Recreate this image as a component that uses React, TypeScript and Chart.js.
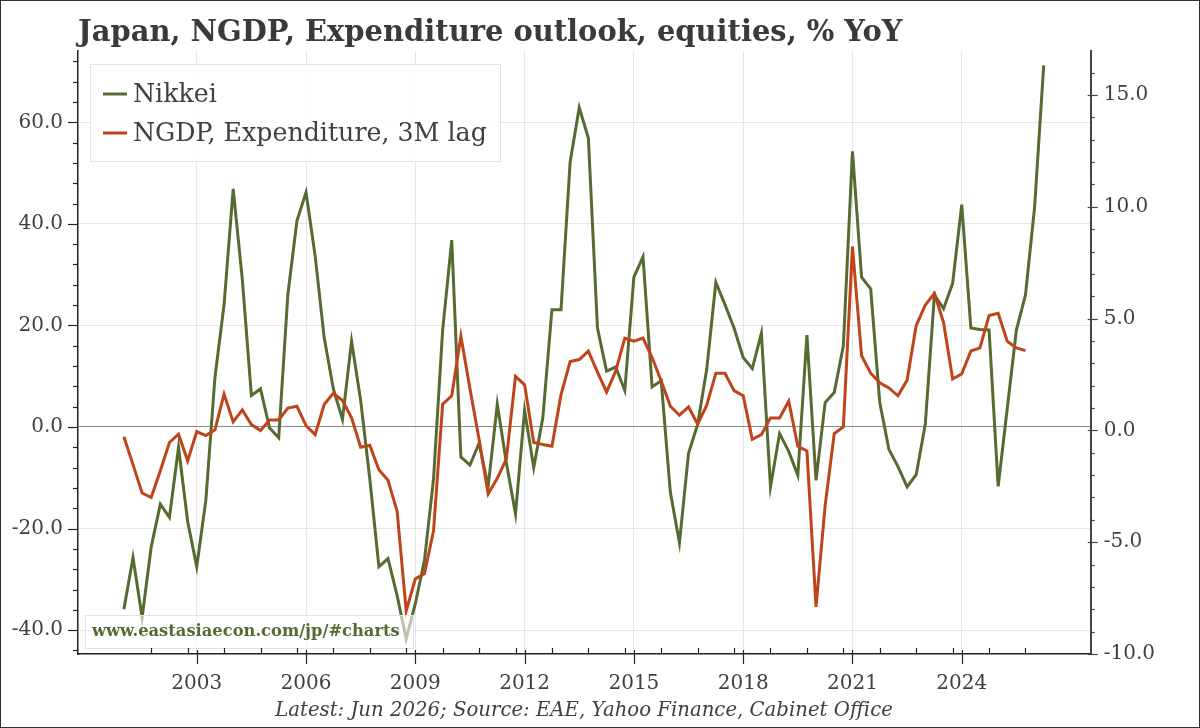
import React, { useEffect, useRef } from "react";
import { Chart, registerables } from "chart.js";

Chart.register(...registerables);

// ---------- data ----------
const FIRST_YEAR = 2001;
const N_QUARTERS = 102; // 2001Q1 .. 2026Q2
const QUARTERS: string[] = Array.from({ length: N_QUARTERS }, (_, i) =>
  `${FIRST_YEAR + Math.floor(i / 4)}Q${(i % 4) + 1}`
);

// Nikkei, % YoY (left axis)
const NIKKEI: number[] = [
  -35.9, -25.7, -37.5, -23.6, -15.2, -17.8, -4.0, -18.6, -27.5, -14.4,
  9.8, 24.1, 46.9, 29.1, 6.2, 7.5, -0.2, -2.1, 26.0, 40.6,
  46.2, 33.7, 17.5, 7.5, 1.5, 16.9, 5.2, -10.2, -27.5, -25.9,
  -33.2, -41.7, -34.8, -26.3, -10.2, 19.1, 36.8, -5.9, -7.5, -3.2,
  -11.7, 4.5, -7.1, -17.1, 3.3, -8.0, 1.8, 23.1, 23.1, 52.2,
  62.9, 56.9, 19.5, 11.0, 11.8, 7.2, 29.5, 33.5, 7.9, 9.1,
  -12.8, -22.8, -5.2, 0.5, 11.4, 28.5, 24.1, 19.5, 13.7, 11.5,
  18.5, -11.8, -1.3, -4.8, -9.5, 18.1, -10.5, 4.8, 6.8, 16.0,
  54.3, 29.5, 27.2, 4.8, -4.4, -7.8, -11.8, -9.4, 0.6, 26.0,
  23.3, 28.3, 43.8, 19.5, 19.2, 19.1, -11.7, 3.7, 19.1, 26.0,
  43.3, 71.2,
];

// NGDP, Expenditure, 3M lag, % YoY (right axis)
const NGDP: number[] = [
  -0.28, -1.53, -2.8, -3.0, -1.8, -0.54, -0.17, -1.36, -0.05, -0.23,
  0.03, 1.62, 0.38, 0.92, 0.26, 0.0, 0.47, 0.47, 1.0, 1.08,
  0.21, -0.19, 1.17, 1.66, 1.34, 0.56, -0.75, -0.66, -1.76, -2.23,
  -3.62, -8.07, -6.64, -6.41, -4.49, 1.17, 1.55, 4.22, 1.86, -0.4,
  -2.84, -2.14, -1.27, 2.42, 2.04, -0.54, -0.63, -0.71, 1.6, 3.08,
  3.17, 3.55, 2.61, 1.72, 2.65, 4.13, 3.99, 4.13, 3.26, 2.21,
  1.08, 0.68, 1.05, 0.28, 1.13, 2.56, 2.56, 1.78, 1.55, -0.4,
  -0.19, 0.56, 0.56, 1.31, -0.71, -0.92, -7.89, -3.36, -0.14, 0.16,
  8.22, 3.34, 2.56, 2.13, 1.9, 1.55, 2.25, 4.69, 5.61, 6.13,
  4.83, 2.3, 2.53, 3.55, 3.69, 5.14, 5.24, 3.99, 3.69, 3.57,
];

const YEAR_TICKS = [2003, 2006, 2009, 2012, 2015, 2018, 2021, 2024];
const MINOR_YEARS = Array.from({ length: 25 }, (_, i) => 2001 + i);
const LEFT_TICKS = [-40, -20, 0, 20, 40, 60];
const RIGHT_TICKS = [-10, -5, 0, 5, 10, 15];

const TITLE = "Japan, NGDP, Expenditure outlook, equities, % YoY";
const FOOTER = "Latest: Jun 2026; Source: EAE, Yahoo Finance, Cabinet Office";
const WATERMARK = "www.eastasiaecon.com/jp/#charts";
const SERIES_NAMES = ["Nikkei", "NGDP, Expenditure, 3M lag"];

// ---------- style ----------
const FAMILY = '"DejaVu Serif", "Liberation Serif", serif';
const TEXT = "#404040";
const GREEN = "#556b2f";
const ORANGE = "#c0441a";

const qToYear = (q: string) => parseInt(q.slice(0, 4), 10) + (parseInt(q.slice(5), 10) - 1) / 4;

function fitFont(ctx: CanvasRenderingContext2D, text: string, target: number, weight: string, style: string) {
  ctx.font = `${style} ${weight} 20px ${FAMILY}`;
  const w = ctx.measureText(text).width;
  const size = (20 * target) / w;
  ctx.font = `${style} ${weight} ${size}px ${FAMILY}`;
  return size;
}

const decorPlugin = {
  id: "decor",
  afterDatasetsDraw(chart: any) {
    const ctx: CanvasRenderingContext2D = chart.ctx;
    ctx.save();
    // legend
    ctx.fillStyle = "rgba(255,255,255,0.9)";
    ctx.strokeStyle = "#e2e2e2";
    ctx.lineWidth = 1;
    ctx.fillRect(90, 64, 410, 97);
    ctx.strokeRect(90.5, 64.5, 410, 97);
    const colors = [GREEN, ORANGE];
    const rowsY = [94, 133];
    ctx.textBaseline = "middle";
    ctx.textAlign = "left";
    fitFont(ctx, SERIES_NAMES[1], 354, "normal", "normal");
    const legendFont = ctx.font;
    SERIES_NAMES.forEach((name, k) => {
      ctx.strokeStyle = colors[k];
      ctx.lineWidth = 3;
      ctx.beginPath();
      ctx.moveTo(103, rowsY[k]);
      ctx.lineTo(127, rowsY[k]);
      ctx.stroke();
      ctx.fillStyle = TEXT;
      ctx.font = legendFont;
      ctx.fillText(name, 133, rowsY[k] + 1);
    });
    // watermark
    ctx.fillStyle = "rgba(255,255,255,0.6)";
    ctx.fillRect(85, 615, 328, 33);
    ctx.strokeStyle = "#e2e2e2";
    ctx.lineWidth = 1;
    ctx.strokeRect(85.5, 615.5, 328, 33);
    fitFont(ctx, WATERMARK, 308, "bold", "normal");
    ctx.fillStyle = GREEN;
    ctx.fillText(WATERMARK, 92, 632);
    ctx.restore();
  },
  afterDraw(chart: any) {
    const ctx: CanvasRenderingContext2D = chart.ctx;
    const { x, y, y1 } = chart.scales;
    const area = chart.chartArea;
    ctx.save();
    ctx.strokeStyle = "#222";
    ctx.lineWidth = 1.2;
    // left ticks
    for (let v = -44; v <= 72; v += 4) {
      const py = Math.round(y.getPixelForValue(v)) + 0.5;
      const len = v % 20 === 0 ? 10 : 5;
      ctx.beginPath();
      ctx.moveTo(area.left - len, py);
      ctx.lineTo(area.left, py);
      ctx.stroke();
    }
    // right ticks
    ctx.strokeStyle = "#444";
    for (let v = -10; v <= 16; v += 1) {
      const py = Math.round(y1.getPixelForValue(v)) + 0.5;
      const major = v % 5 === 0;
      ctx.beginPath();
      ctx.moveTo(area.right - (major ? 3 : 0), py);
      ctx.lineTo(area.right + (major ? 7 : 4), py);
      ctx.stroke();
    }
    // bottom ticks
    ctx.strokeStyle = "#222";
    YEAR_TICKS.forEach((yr) => {
      const px = Math.round(x.getPixelForValue(yr)) + 0.5;
      ctx.beginPath();
      ctx.moveTo(px, area.bottom - 4);
      ctx.lineTo(px, area.bottom + 10);
      ctx.stroke();
    });
    MINOR_YEARS.forEach((yr) => {
      const px = Math.round(x.getPixelForValue(yr + 0.75)) + 0.5;
      ctx.beginPath();
      ctx.moveTo(px, area.bottom - 6);
      ctx.lineTo(px, area.bottom);
      ctx.stroke();
    });
    // title
    ctx.fillStyle = "#3a3a3a";
    ctx.textAlign = "left";
    ctx.textBaseline = "alphabetic";
    fitFont(ctx, TITLE, 825, "bold", "normal");
    ctx.fillText(TITLE, 78, 41);
    // footer
    ctx.fillStyle = TEXT;
    ctx.textAlign = "center";
    fitFont(ctx, FOOTER, 618, "normal", "italic");
    ctx.fillText(FOOTER, 584, 716);
    // frame
    ctx.strokeStyle = "#333";
    ctx.lineWidth = 1;
    ctx.strokeRect(0.5, 0.5, chart.width - 1, chart.height - 1);
    ctx.restore();
  },
};

export default function App() {
  const ref = useRef<HTMLCanvasElement>(null);
  useEffect(() => {
    document.body.style.margin = "0";
    const tickFont = { family: FAMILY, size: 20 };
    const chart = new Chart(ref.current as HTMLCanvasElement, {
      type: "line",
      data: {
        datasets: [
          {
            label: SERIES_NAMES[0],
            data: QUARTERS.map((q, i) => ({ x: qToYear(q), y: NIKKEI[i] })),
            borderColor: GREEN,
            borderWidth: 3,
            pointRadius: 0,
            tension: 0,
            yAxisID: "y",
            order: 1,
          },
          {
            label: SERIES_NAMES[1],
            data: QUARTERS.slice(0, NGDP.length).map((q, i) => ({ x: qToYear(q), y: NGDP[i] })),
            borderColor: ORANGE,
            borderWidth: 3,
            pointRadius: 0,
            tension: 0,
            yAxisID: "y1",
            order: 0,
          },
        ],
      },
      options: {
        animation: false,
        responsive: false,
        devicePixelRatio: 1,
        layout: { padding: { top: 51, left: 0, right: 0, bottom: 0 } },
        plugins: { legend: { display: false }, tooltip: { enabled: false }, title: { display: false } },
        scales: {
          x: {
            type: "linear",
            min: 1999.74,
            max: 2027.54,
            afterBuildTicks: (s: any) => {
              s.ticks = YEAR_TICKS.map((v) => ({ value: v }));
            },
            afterFit: (s: any) => {
              s.height = 74;
            },
            ticks: {
              callback: (v: any) => String(v),
              font: tickFont,
              color: TEXT,
              padding: 18,
              maxRotation: 0,
              autoSkip: false,
            },
            grid: { color: "#e6e6e6", lineWidth: 1, drawTicks: false },
            border: { display: true, color: "#222", width: 1.5 },
          },
          y: {
            type: "linear",
            position: "left",
            min: -44.7,
            max: 74.04,
            afterBuildTicks: (s: any) => {
              s.ticks = LEFT_TICKS.map((v) => ({ value: v }));
            },
            afterFit: (s: any) => {
              s.width = 78;
            },
            ticks: {
              callback: (v: any) => Number(v).toFixed(1),
              font: tickFont,
              color: TEXT,
              padding: 15,
            },
            grid: {
              color: (c: any) => (c.tick && c.tick.value === 0 ? "#8c8c8c" : "#e6e6e6"),
              lineWidth: 1,
              drawTicks: false,
            },
            border: { display: true, color: "#222", width: 1.5 },
          },
          y1: {
            type: "linear",
            position: "right",
            min: -10,
            max: 16.97,
            afterBuildTicks: (s: any) => {
              s.ticks = RIGHT_TICKS.map((v) => ({ value: v }));
            },
            afterFit: (s: any) => {
              s.width = 109.3;
            },
            ticks: {
              callback: (v: any) => Number(v).toFixed(1),
              font: tickFont,
              color: TEXT,
              padding: 13,
            },
            grid: { drawOnChartArea: false, drawTicks: false },
            border: { display: true, color: "#444", width: 2 },
          },
        },
      },
      plugins: [decorPlugin],
    } as any);
    return () => chart.destroy();
  }, []);
  return (
    <div style={{ width: 1200, height: 728, background: "#fff" }}>
      <canvas ref={ref} width={1200} height={728} style={{ display: "block" }} />
    </div>
  );
}
